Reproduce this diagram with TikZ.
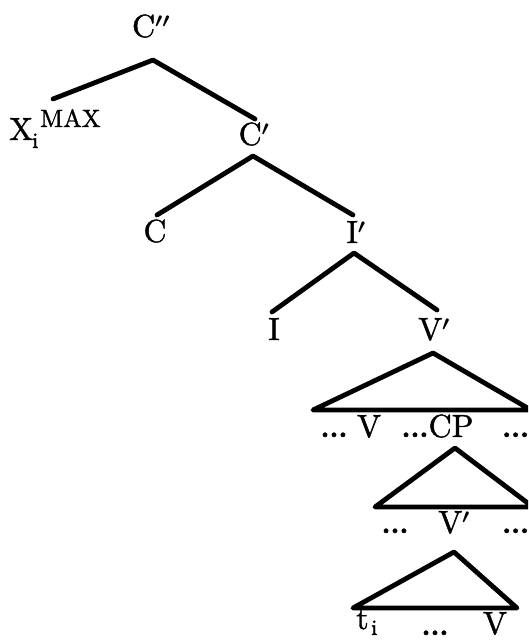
\documentclass[tikz,border=0pt]{standalone}
\usepackage{fontspec}
\newfontfamily\labfont{lmroman10-regular}[Extension=.otf, FakeBold=1.3]
\newfontfamily\dotfont{lmroman10-bold}[Extension=.otf, FakeBold=1.5]
\begin{document}
\begin{tikzpicture}[x=1pt,y=-1pt,
  lab/.style={inner sep=0pt, font=\labfont\fontsize{32}{38}\selectfont\boldmath},
  dots/.style={inner sep=0pt, font=\dotfont\fontsize{28}{34}\selectfont},
  small/.style={inner sep=0pt, font=\labfont\fontsize{25}{30}\selectfont},
  tiny/.style={inner sep=0pt, font=\labfont\fontsize{22}{26}\selectfont},
  branch/.style={line width=4.8pt, line cap=round, line join=round}]
\useasboundingbox (0,0) rectangle (528,640);
\clip (0,0) rectangle (528,640);
% labels
\node[lab, anchor=base] (cpp) at (151,37) {C$''$};
\node[lab, anchor=base west] (x) at (9,140) {X};
\node[small, anchor=base west] (max) at (40,127) {MAX};
\node[tiny, anchor=base west] (xi) at (32,148) {i};
\node[lab, anchor=base] (cp) at (254,145) {C$'$};
\node[lab, anchor=base] (c) at (155,242) {C};
\node[lab, anchor=base] (ip) at (356,243) {I$'$};
\node[lab, anchor=base] (i) at (274,340) {I};
\node[lab, anchor=base] (vp) at (434,340) {V$'$};
% endpoints
\coordinate (cppA) at (153,60);
\coordinate (cppL) at (53,99);
\coordinate (cppR) at (255,119);
\coordinate (cpA) at (253,156);
\coordinate (cpL) at (157,215);
\coordinate (cpR) at (353,215);
\coordinate (ipA) at (354,253);
\coordinate (ipL) at (272,312);
\coordinate (ipR) at (437,310);
\coordinate (t1A) at (433,353);
\coordinate (t1L) at (313,410);
\coordinate (t1R) at (531,410);
\coordinate (t2A) at (455,448);
\coordinate (t2L) at (375,507);
\coordinate (t2R) at (533,507);
\coordinate (t3A) at (454,552);
\coordinate (t3L) at (353,608);
\coordinate (t3R) at (517,608);
% branches
\draw[branch] (cppL) -- (cppA) -- (cppR);
\draw[branch] (cpL) -- (cpA) -- (cpR);
\draw[branch] (ipL) -- (ipA) -- (ipR);
\draw[branch] (t1A) -- (t1L) -- (t1R) -- cycle;
\draw[branch] (t2A) -- (t2L) -- (t2R) -- cycle;
\draw[branch] (t3A) -- (t3L) -- (t3R) -- cycle;
% triangle 1 labels
\node[dots, anchor=base] (d1a) at (334,437) {...};
\node[lab, anchor=base] (v1) at (369,437) {V};
\node[dots, anchor=base] (d1b) at (415,437) {...};
\node[lab, anchor=base] (cpl) at (451,437) {CP};
\node[dots, anchor=base west] (d1c) at (502,437) {...};
% triangle 2 labels
\node[dots, anchor=base] (d2a) at (395,533) {...};
\node[lab, anchor=base] (v2) at (454,533) {V$'$};
\node[dots, anchor=base west] (d2b) at (502,533) {...};
% triangle 3 labels
\node[lab, anchor=base west] (t) at (356,629) {t};
\node[tiny, anchor=base west] (ti) at (371,635) {i};
\node[dots, anchor=base] (d3) at (435,635) {...};
\node[lab, anchor=base] (v3) at (495,634) {V};
\end{tikzpicture}
\end{document}
